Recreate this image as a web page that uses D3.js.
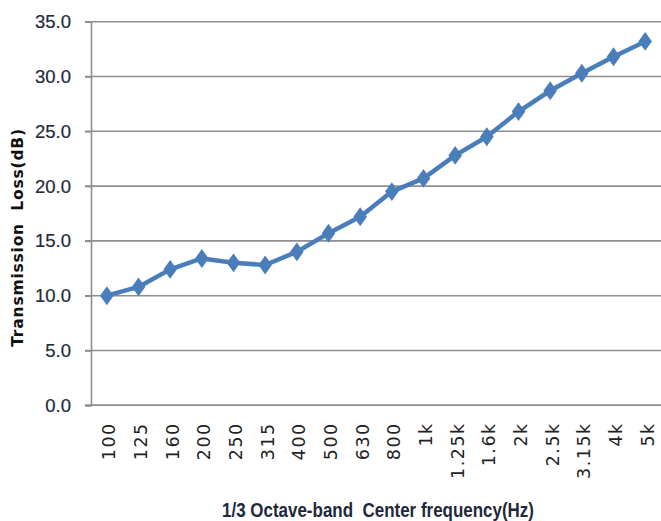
<!DOCTYPE html>
<html>
<head>
<meta charset="utf-8">
<script src="https://cdn.jsdelivr.net/npm/d3@7"></script>
<style>
  html, body { margin: 0; padding: 0; background: #fff; }
  svg { display: block; }
</style>
</head>
<body>
<svg id="chart" width="661" height="521"></svg>
<script>
const categories = ["100","125","160","200","250","315","400","500","630","800","1k","1.25k","1.6k","2k","2.5k","3.15k","4k","5k"];
const values = [10.0,10.8,12.4,13.4,13.0,12.8,14.0,15.7,17.2,19.5,20.7,22.8,24.5,26.8,28.7,30.3,31.8,33.2];
const yTicks = [0,5,10,15,20,25,30,35];
const yTitle = "Transmission  Loss(dB)";
const xTitle = "1/3 Octave-band  Center frequency(Hz)";

const svg = d3.select("#chart");
const mLeft = 91, mRight = 661, mTop = 21.7, mBottom = 405.3;

const x = d3.scalePoint().domain(categories).range([mLeft, mRight]).padding(0.5);
const y = d3.scaleLinear().domain([0, 35]).range([mBottom, mTop]);

// gridlines
svg.append("g").selectAll("line").data(yTicks).join("line")
  .attr("x1", mLeft - 6).attr("x2", mRight)
  .attr("y1", d => y(d)).attr("y2", d => y(d))
  .attr("stroke", "#8e8e8e").attr("stroke-width", 1.6);

// y axis
const yAxis = d3.axisLeft(y).tickValues(yTicks).tickFormat(d3.format(".1f")).tickSize(6).tickPadding(14);
const gy = svg.append("g").attr("transform", `translate(${mLeft},0)`).call(yAxis);
gy.select(".domain").attr("stroke", "#8e8e8e").attr("stroke-width", 1.6);
gy.selectAll(".tick line").attr("stroke", "#8e8e8e").attr("stroke-width", 1.6);
gy.selectAll(".tick text")
  .attr("font-family", "'Liberation Sans', Arial, sans-serif")
  .attr("font-size", 18.5).attr("fill", "#1e2a3a")
  .attr("stroke", "#1e2a3a").attr("stroke-width", 0.2);

// x axis
const xAxis = d3.axisBottom(x).tickSize(0).tickPadding(0);
const gx = svg.append("g").attr("transform", `translate(0,${mBottom})`).call(xAxis);
gx.select(".domain").attr("stroke", "#8e8e8e").attr("stroke-width", 1.6)
  .attr("d", `M${mLeft - 6},0H${mRight}`);
gx.selectAll(".tick text")
  .attr("font-family", "'DejaVu Sans', Verdana, sans-serif")
  .attr("font-size", 17.5).attr("fill", "#222")
  .attr("letter-spacing", "1.5px")
  .attr("text-anchor", "end")
  .attr("transform", "rotate(-90)")
  .attr("x", -17).attr("y", 0).attr("dy", "0.45em");

// line
const line = d3.line().x((d, i) => x(categories[i])).y(d => y(d));
svg.append("path").datum(values)
  .attr("d", line).attr("fill", "none")
  .attr("stroke", "#4a7ebb").attr("stroke-width", 4.5)
  .attr("stroke-linejoin", "round");

// diamond markers
const diamond = {
  draw(ctx, size) {
    const h = Math.sqrt(size) * 0.9, w = h * 0.72;
    ctx.moveTo(0, -h); ctx.lineTo(w, 0); ctx.lineTo(0, h); ctx.lineTo(-w, 0); ctx.closePath();
  }
};
svg.append("g").selectAll("path").data(values).join("path")
  .attr("d", d3.symbol().type(diamond).size(110))
  .attr("transform", (d, i) => `translate(${x(categories[i])},${y(d)})`)
  .attr("fill", "#4a7ebb");

// y title
svg.append("text")
  .attr("transform", `translate(23,${(140 + 335) / 2}) rotate(-90)`)
  .attr("text-anchor", "middle")
  .attr("font-family", "'DejaVu Sans', Verdana, sans-serif")
  .attr("font-weight", "bold").attr("font-size", 15.5)
  .attr("letter-spacing", "0.8px")
  .attr("fill", "#111")
  .style("white-space", "pre")
  .text(yTitle);

// x title
const xt = svg.append("text")
  .attr("x", (222 + 534) / 2).attr("y", 517)
  .attr("text-anchor", "middle")
  .attr("font-family", "'Liberation Sans', Arial, sans-serif")
  .attr("font-weight", "bold")
  .attr("font-size", 20).attr("fill", "#1e2a3a")
  .style("white-space", "pre")
  .text(xTitle);
const len = xt.node().getComputedTextLength();
if (Math.abs(len - 312) > 4) xt.attr("textLength", 312).attr("lengthAdjust", "spacingAndGlyphs");
</script>
</body>
</html>
